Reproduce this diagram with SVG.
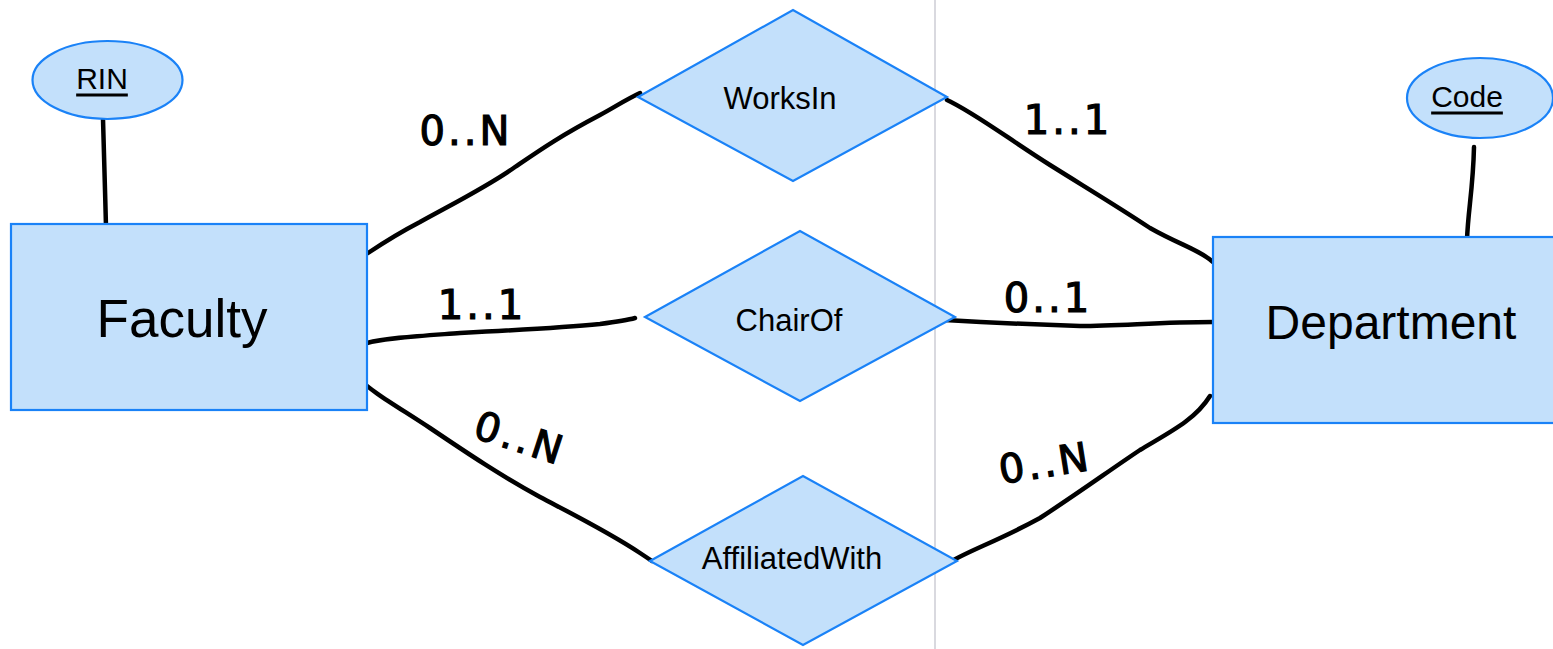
<svg xmlns="http://www.w3.org/2000/svg" width="1553" height="649" viewBox="0 0 1553 649">
<style>
.shape{fill:#c3e0fb;stroke:#1a82f7;stroke-width:2.2}
.lbl{font-family:"Liberation Sans",Arial,sans-serif;font-size:30px;fill:#000;text-anchor:middle;dominant-baseline:central}
.key{text-decoration:underline}
.hand{font-family:"DejaVu Sans","Liberation Sans",sans-serif;font-size:40px;letter-spacing:3px;fill:#000;stroke:#000;stroke-width:1.2;text-anchor:middle;dominant-baseline:central}
.conn path{fill:none;stroke:#000;stroke-width:4.5;stroke-linecap:round;stroke-linejoin:round}
</style>
<rect width="1553" height="649" fill="#fff"/>
<line x1="935" y1="0" x2="935" y2="649" stroke="#d9d9df" stroke-width="2"/>
<g class="conn" id="connectors">
<path d="M103,119 C104,150 105,190 106,227"/>
<path d="M1474,147 C1473,190 1468,210 1467,240"/>
<path d="M368,253 C380,245 395,235 420,222 C460,200 490,185 515,167 C540,150 560,136 600,115 C615,107 625,100 640,93"/>
<path d="M947,100 C975,113 1010,140 1050,165 C1090,190 1120,208 1150,228 C1180,245 1200,250 1213,262"/>
<path d="M367,343 C385,338 420,336 460,333 C520,330 560,328 600,324 C615,322 628,320 635,318"/>
<path d="M945,320 C980,322 1020,324 1080,326 C1120,326 1160,322 1213,322"/>
<path d="M358,378 C372,392 395,405 430,428 C470,455 500,475 540,497 C580,518 610,533 640,553 L652,561"/>
<path d="M950,562 C970,550 1000,540 1040,518 C1080,492 1110,470 1140,450 C1170,432 1195,420 1210,396"/>
</g>
<g id="RIN"><ellipse class="shape" cx="107.5" cy="80" rx="75" ry="39"/><text class="lbl key" x="102" y="78">RIN</text></g>
<g id="Faculty"><rect class="shape" x="11" y="224" width="356" height="186"/><text class="lbl" style="font-size:53px" x="182" y="318">Faculty</text></g>
<g id="WorksIn"><polygon class="shape" points="638,97 793,10 947,97 793,181"/><text class="lbl" style="font-size:31px" x="780" y="98">WorksIn</text></g>
<g id="ChairOf"><polygon class="shape" points="645,317 800,231 955,317 800,401"/><text class="lbl" style="font-size:31px" x="789" y="320">ChairOf</text></g>
<g id="AffiliatedWith"><polygon class="shape" points="650,561 803,476 957,561 803,645"/><text class="lbl" style="font-size:31px" x="792" y="558">AffiliatedWith</text></g>
<g id="Code"><ellipse class="shape" cx="1480" cy="98" rx="73" ry="40"/><text class="lbl key" x="1467" y="96">Code</text></g>
<g id="Department"><rect class="shape" x="1213" y="237" width="345" height="186"/><text class="lbl" style="font-size:48px" x="1391" y="322">Department</text></g>
<g id="labels">
<text class="hand" x="466" y="131">0..N</text>
<text class="hand" x="1068" y="120">1..1</text>
<text class="hand" x="482" y="305">1..1</text>
<text class="hand" x="1048" y="298">0..1</text>
<text class="hand" transform="translate(520,438) rotate(18)">0..N</text>
<text class="hand" transform="translate(1045,463) rotate(-9)">0..N</text>
</g>
</svg>
